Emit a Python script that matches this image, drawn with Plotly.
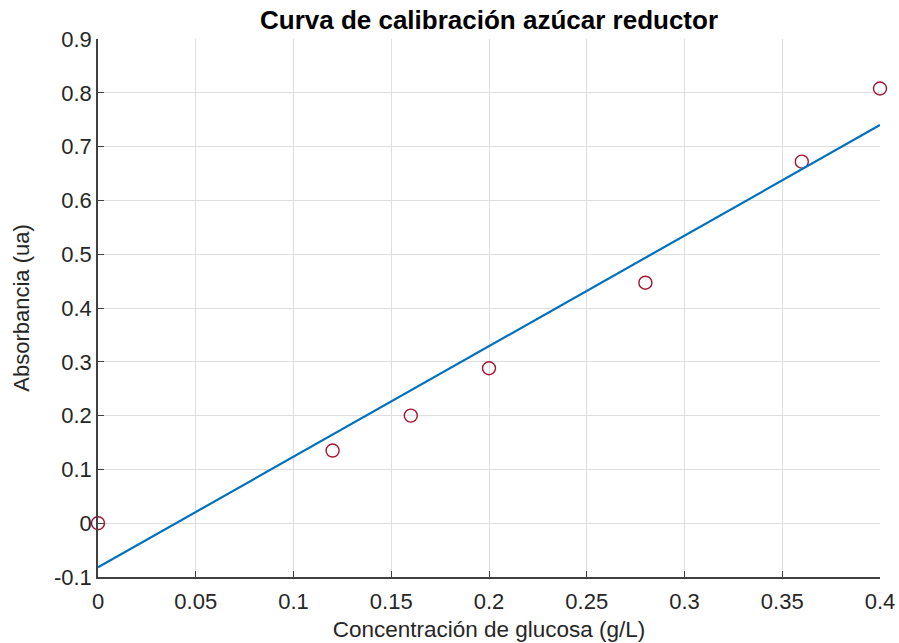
import plotly.graph_objects as go

# Calibration standards: glucose concentration (g/L) and measured absorbance (ua)
concentracion = [0.0, 0.12, 0.16, 0.20, 0.28, 0.36, 0.40]
absorbancia = [0.0, 0.135, 0.200, 0.288, 0.447, 0.672, 0.808]

# Least-squares calibration line, evaluated at the ends of the range
ajuste_x = [0.0, 0.40]
ajuste_y = [-0.082, 0.740]

x_ticks = [0, 0.05, 0.1, 0.15, 0.2, 0.25, 0.3, 0.35, 0.4]
x_tick_text = ["0", "0.05", "0.1", "0.15", "0.2", "0.25", "0.3", "0.35", "0.4"]
y_ticks = [-0.1, 0, 0.1, 0.2, 0.3, 0.4, 0.5, 0.6, 0.7, 0.8, 0.9]
y_tick_text = ["-0.1", "0", "0.1", "0.2", "0.3", "0.4", "0.5", "0.6", "0.7", "0.8", "0.9"]

FONT = "Liberation Sans, Arial, Helvetica, sans-serif"
AXIS_COLOR = "#262626"
LINE_COLOR = "#404040"
GRID_COLOR = "#dedede"

fig = go.Figure()

fig.add_trace(go.Scatter(
    x=concentracion, y=absorbancia,
    mode="markers",
    marker=dict(symbol="circle-open", size=13, color="#A2142F", line=dict(width=1.4)),
    cliponaxis=False,
    showlegend=False,
))

fig.add_trace(go.Scatter(
    x=ajuste_x, y=ajuste_y,
    mode="lines",
    line=dict(color="#0072BD", width=2.2),
    showlegend=False,
))

fig.update_layout(
    width=899, height=643,
    margin=dict(l=98, r=19, t=39, b=66),
    paper_bgcolor="white",
    plot_bgcolor="white",
    font=dict(family=FONT, size=22, color=AXIS_COLOR),
    title=dict(
        text="<b>Curva de calibración azúcar reductor</b>",
        x=(98 + 880) / 2 / 899, xanchor="center",
        y=1 - 20 / 643, yanchor="middle",
        font=dict(family=FONT, size=26, color="#000000"),
    ),
)

fig.update_xaxes(
    range=[0, 0.4],
    automargin=False,
    tickmode="array", tickvals=x_ticks, ticktext=x_tick_text,
    showgrid=True, gridcolor=GRID_COLOR, gridwidth=1,
    zeroline=False,
    showline=True, linecolor=LINE_COLOR, linewidth=1.5,
    ticks="inside", ticklen=6, tickcolor=LINE_COLOR, tickwidth=1.2,
    ticklabelstandoff=4,
    tickfont=dict(family=FONT, size=22, color=AXIS_COLOR),
    title=dict(text="Concentración de glucosa (g/L)", standoff=8,
               font=dict(family=FONT, size=22.5, color=AXIS_COLOR)),
)

fig.update_yaxes(
    range=[-0.1, 0.9],
    automargin=False,
    tickmode="array", tickvals=y_ticks, ticktext=y_tick_text,
    showgrid=True, gridcolor=GRID_COLOR, gridwidth=1,
    zeroline=False,
    showline=True, linecolor=LINE_COLOR, linewidth=1.5,
    ticks="inside", ticklen=6, tickcolor=LINE_COLOR, tickwidth=1.2,
    tickfont=dict(family=FONT, size=22, color=AXIS_COLOR),
    title=dict(text="Absorbancia (ua)", standoff=18,
               font=dict(family=FONT, size=22, color=AXIS_COLOR)),
)

fig.write_html("out.html")
